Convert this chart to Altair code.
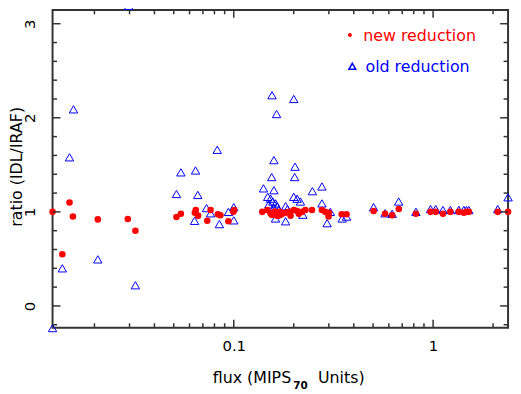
import altair as alt
import pandas as pd

# ---------------- data ----------------
new_flux = [0.01233, 0.0138, 0.0150, 0.0156, 0.0208, 0.0294, 0.0321, 0.0516, 0.0543, 0.0638,
            0.0645, 0.0662, 0.0736, 0.0765, 0.0832, 0.0857, 0.094, 0.0995, 0.1005,
            0.139, 0.1476, 0.153, 0.155, 0.1575, 0.16, 0.162, 0.165, 0.1674, 0.170,
            0.172, 0.175, 0.1787, 0.1855, 0.19, 0.1927, 0.2003, 0.208, 0.212, 0.2203,
            0.2287, 0.2468, 0.2767, 0.2874, 0.2988, 0.30, 0.348, 0.368,
            0.503, 0.574, 0.623, 0.673, 0.820, 0.971, 1.031, 1.121, 1.22, 1.346,
            1.426, 1.47, 1.51, 2.11, 2.377]
new_ratio = [1.00, 0.55, 1.10, 0.95, 0.92, 0.925, 0.80, 0.945, 0.98, 0.99,
             1.02, 0.96, 0.905, 1.02, 0.975, 0.965, 0.90, 1.00, 1.02,
             1.00, 1.02, 0.985, 0.97, 0.97, 1.00, 1.00, 0.96, 0.96, 1.00,
             0.97, 0.99, 0.985, 0.995, 1.00, 0.96, 1.02, 1.01, 0.98, 1.00,
             1.02, 1.02, 1.02, 1.00, 0.95, 0.99, 0.975, 0.975,
             1.01, 0.98, 0.965, 1.03, 0.98, 1.00, 1.00, 0.98, 1.00, 1.00,
             0.99, 1.00, 1.00, 1.00, 1.00]

old_flux = [0.01233, 0.0138, 0.0150, 0.0157, 0.0208, 0.0297, 0.0321, 0.0516, 0.0543, 0.0636,
            0.0643, 0.066, 0.073, 0.0765, 0.0826, 0.0847, 0.094, 0.100, 0.100,
            0.1556, 0.200, 0.164, 0.159, 0.203, 0.155, 0.202, 0.141, 0.159, 0.248,
            0.277, 0.148, 0.153, 0.157, 0.162, 0.165, 0.150, 0.159, 0.168, 0.182,
            0.200, 0.208, 0.216, 0.186, 0.222, 0.182, 0.162, 0.277, 0.294, 0.305,
            0.350, 0.368,
            0.503, 0.574, 0.623, 0.672, 0.820, 0.971, 1.031, 1.121, 1.22, 1.346,
            1.426, 1.47, 1.51, 2.11, 2.377]
old_ratio = [-0.235, 0.40, 1.58, 2.09, 0.495, 3.19, 0.22, 1.19, 1.42, 0.905,
             1.44, 1.18, 1.04, 0.985, 1.66, 0.87, 1.00, 1.05, 0.91,
             2.24, 2.20, 2.04, 1.55, 1.48, 1.37, 1.37, 1.25, 1.23, 1.22,
             1.27, 1.16, 1.14, 1.11, 1.09, 1.06, 1.08, 1.04, 1.02, 1.06,
             1.16, 1.14, 1.11, 1.03, 0.97, 0.90, 0.93, 1.09, 0.88, 1.00,
             0.93, 0.95,
             1.05, 0.985, 0.98, 1.11, 1.00, 1.03, 1.03, 1.02, 1.02, 1.02,
             1.02, 1.02, 1.02, 1.03, 1.155]

x_label_values = [0.1, 1]
y_label_values = [0, 1, 2, 3]
x_major = [0.1, 1]
x_minor = [0.02, 0.03, 0.04, 0.05, 0.06, 0.07, 0.08, 0.09,
           0.2, 0.3, 0.4, 0.5, 0.6, 0.7, 0.8, 0.9, 2]
y_major = [0, 1, 2, 3]
y_minor = [-0.2, 0.2, 0.4, 0.6, 0.8, 1.2, 1.4, 1.6, 1.8, 2.2, 2.4, 2.6, 2.8]
legend_labels = ["new reduction", "old reduction"]
x_title_parts = ["flux (MIPS", "70", "Units)"]
y_title = "ratio (IDL/IRAF)"

# ---------------- styling ----------------
FONT = "DejaVu Sans"
RED = "#ff0000"
BLUE = "#0000ff"
FRAME = "#333333"
W, H = 460, 321
MAJ, MIN = 8, 4.5

xs = alt.Scale(type="log", domain=[0.01233, 2.377], nice=False)
ys = alt.Scale(domain=[-0.2316, 3.147], nice=False, zero=False)

new_df = pd.DataFrame({"flux": new_flux, "ratio": new_ratio})
old_df = pd.DataFrame({"flux": old_flux, "ratio": old_ratio})

xaxis = alt.Axis(values=x_label_values, format="~g", ticks=False, tickSize=0, domain=False,
                 grid=False, labelFont=FONT, labelFontSize=15, labelColor="black",
                 labelPadding=23, labelBaseline="alphabetic", labelOverlap=False,
                 labelFlush=False, title=None)
yaxis = alt.Axis(values=y_label_values, format="d", ticks=False, tickSize=0, domain=False,
                 grid=False, labelFont=FONT, labelFontSize=15, labelColor="black",
                 labelAngle=270, labelAlign="center", labelBaseline="alphabetic",
                 labelPadding=18, labelOverlap=False, labelFlush=False,
                 title=y_title, titleFont=FONT, titleFontSize=16, titleFontWeight="normal",
                 titleColor="black", titleAngle=270, titleBaseline="alphabetic",
                 titleAlign="center", titleX=-31, titleY=158)

old_layer = alt.Chart(old_df).mark_point(
    shape="triangle-up", filled=False, color=BLUE, size=72, strokeWidth=1, opacity=1
).encode(
    x=alt.X("flux:Q", scale=xs, axis=xaxis),
    y=alt.Y("ratio:Q", scale=ys, axis=yaxis),
)
new_layer = alt.Chart(new_df).mark_circle(color=RED, size=44, opacity=1).encode(
    x=alt.X("flux:Q", scale=xs, axis=xaxis),
    y=alt.Y("ratio:Q", scale=ys, axis=yaxis),
)


def xticks(vals, length, top):
    df = pd.DataFrame({"flux": vals})
    if top:
        yy, yy2 = alt.value(0), alt.value(length)
    else:
        yy, yy2 = alt.value(H), alt.value(H - length)
    return alt.Chart(df).mark_rule(color=FRAME, strokeWidth=1.5).encode(
        x=alt.X("flux:Q", scale=xs, axis=xaxis), y=yy, y2=yy2)


def yticks(vals, length, right):
    df = pd.DataFrame({"ratio": vals})
    if right:
        xx, xx2 = alt.value(W), alt.value(W - length)
    else:
        xx, xx2 = alt.value(0), alt.value(length)
    return alt.Chart(df).mark_rule(color=FRAME, strokeWidth=1.5).encode(
        y=alt.Y("ratio:Q", scale=ys, axis=yaxis), x=xx, x2=xx2)


tick_layers = [
    xticks(x_major, MAJ, False), xticks(x_minor, MIN, False),
    xticks(x_major, MAJ, True), xticks(x_minor, MIN, True),
    yticks(y_major, MAJ, False), yticks(y_minor, MIN, False),
    yticks(y_major, MAJ, True), yticks(y_minor, MIN, True),
]


def text_layer(t, x, y, size, color="black", align="left", weight="normal"):
    return alt.Chart(pd.DataFrame({"t": [t]})).mark_text(
        align=align, baseline="alphabetic", font=FONT, fontSize=size,
        color=color, fontWeight=weight
    ).encode(x=alt.value(x), y=alt.value(y), text="t:N")


# x-axis title with a true subscript
xt1 = text_layer(x_title_parts[0], 241, H + 56, 16, align="right")
xt2 = text_layer(x_title_parts[1], 243, H + 62, 10.5, weight="bold")
xt3 = text_layer(x_title_parts[2], 268, H + 56, 16)

leg_new_sym = alt.Chart(pd.DataFrame({"t": [legend_labels[0]]})).mark_point(
    shape="circle", filled=True, color=RED, size=16, opacity=1
).encode(x=alt.value(300.3), y=alt.value(25.3))
leg_new_txt = text_layer(legend_labels[0], 313.7, 31, 16, color=RED)
leg_old_sym = alt.Chart(pd.DataFrame({"t": [legend_labels[1]]})).mark_point(
    shape="triangle-up", filled=False, color=BLUE, size=45, strokeWidth=1.6, opacity=1
).encode(x=alt.value(302.7), y=alt.value(57))
leg_old_txt = text_layer(legend_labels[1], 316, 62.7, 16, color=BLUE)

chart = alt.layer(
    old_layer, new_layer, *tick_layers,
    leg_new_sym, leg_new_txt, leg_old_sym, leg_old_txt, xt1, xt2, xt3
).properties(
    width=W, height=H,
    padding={"left": 45, "top": 0, "right": 5, "bottom": 64},
    autosize=alt.AutoSizeParams(type="none"),
    background="white",
).configure_view(stroke=FRAME, strokeWidth=2)

chart.save("out.html", embed_options={"renderer": "svg", "actions": False})
